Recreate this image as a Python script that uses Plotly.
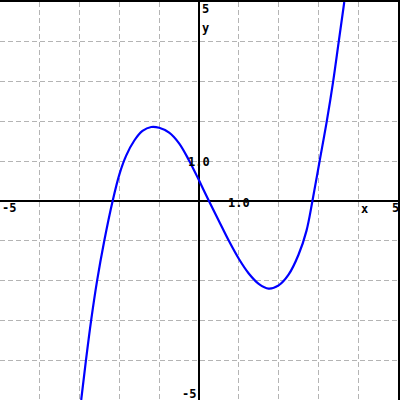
import plotly.graph_objects as go

# Curve points
x_vals = [-2.96, -2.84, -2.71, -2.56, -2.38, -2.17, -2.0, -1.83,
          -1.625, -1.42, -1.2, -1.0, -0.75, -0.5, -0.25, 0.0, 0.25, 0.5,
          0.75, 1.0, 1.25, 1.5, 1.75, 2.0, 2.25, 2.5, 2.7, 2.85,
          3.03, 3.21, 3.37, 3.51, 3.65]
y_vals = [-5.0, -4.0, -3.0, -2.0, -1.0, 0.0, 0.67, 1.14,
          1.52, 1.76, 1.86, 1.84, 1.72, 1.45, 1.02, 0.52, 0.0, -0.5,
          -1.0, -1.45, -1.82, -2.08, -2.2, -2.12, -1.85, -1.35, -0.75, 0.0,
          1.0, 2.0, 3.0, 4.0, 5.0]

x_range = [-5, 5]
y_range = [-5, 5]

# Axis labels: (text, x, y, xanchor)
labels = [
    ("-5", -5.0, -0.18, "left"),
    ("5", 4.93, -0.17, "center"),
    ("x", 4.15, -0.19, "center"),
    ("5", 0.0, 4.83, "left"),
    ("y", 0.0, 4.35, "left"),
    ("-5", 0.0, -4.86, "right"),
    ("1.0", 1.0, -0.04, "center"),
    ("1.0", 0.0, 0.975, "center"),
]

fig = go.Figure()
fig.add_trace(go.Scatter(x=x_vals, y=y_vals, mode="lines",
                         line=dict(color="#0000ff", width=2.2, shape="spline", smoothing=1.0),
                         hoverinfo="skip"))

axis_common = dict(
    showgrid=True, gridcolor="#b4b4b4", gridwidth=1, griddash="5px,3px",
    dtick=1, tick0=0, showticklabels=False, ticks="",
    zeroline=True, zerolinecolor="black", zerolinewidth=1.5,
    showline=True, linecolor="black", linewidth=2, mirror=True,
)

fig.update_layout(
    width=400, height=400,
    margin=dict(l=0, r=0, t=0, b=0),
    paper_bgcolor="white", plot_bgcolor="white",
    showlegend=False,
    xaxis=dict(range=x_range, fixedrange=True, **axis_common),
    yaxis=dict(range=y_range, fixedrange=True, **axis_common),
)

for text, lx, ly, anchor in labels:
    fig.add_annotation(x=lx, y=ly, text="<b>" + text + "</b>", showarrow=False,
                       xanchor=anchor, yanchor="middle",
                       xshift=(1 if anchor == "left" and lx == 0.0 else (-1 if anchor == "right" else 0)),
                       font=dict(family="DejaVu Sans Mono", size=12, color="black"),
                       )

fig.write_html("out.html", config={"displayModeBar": False},
               post_script="document.body.style.margin='0';document.body.style.overflow='hidden';")
